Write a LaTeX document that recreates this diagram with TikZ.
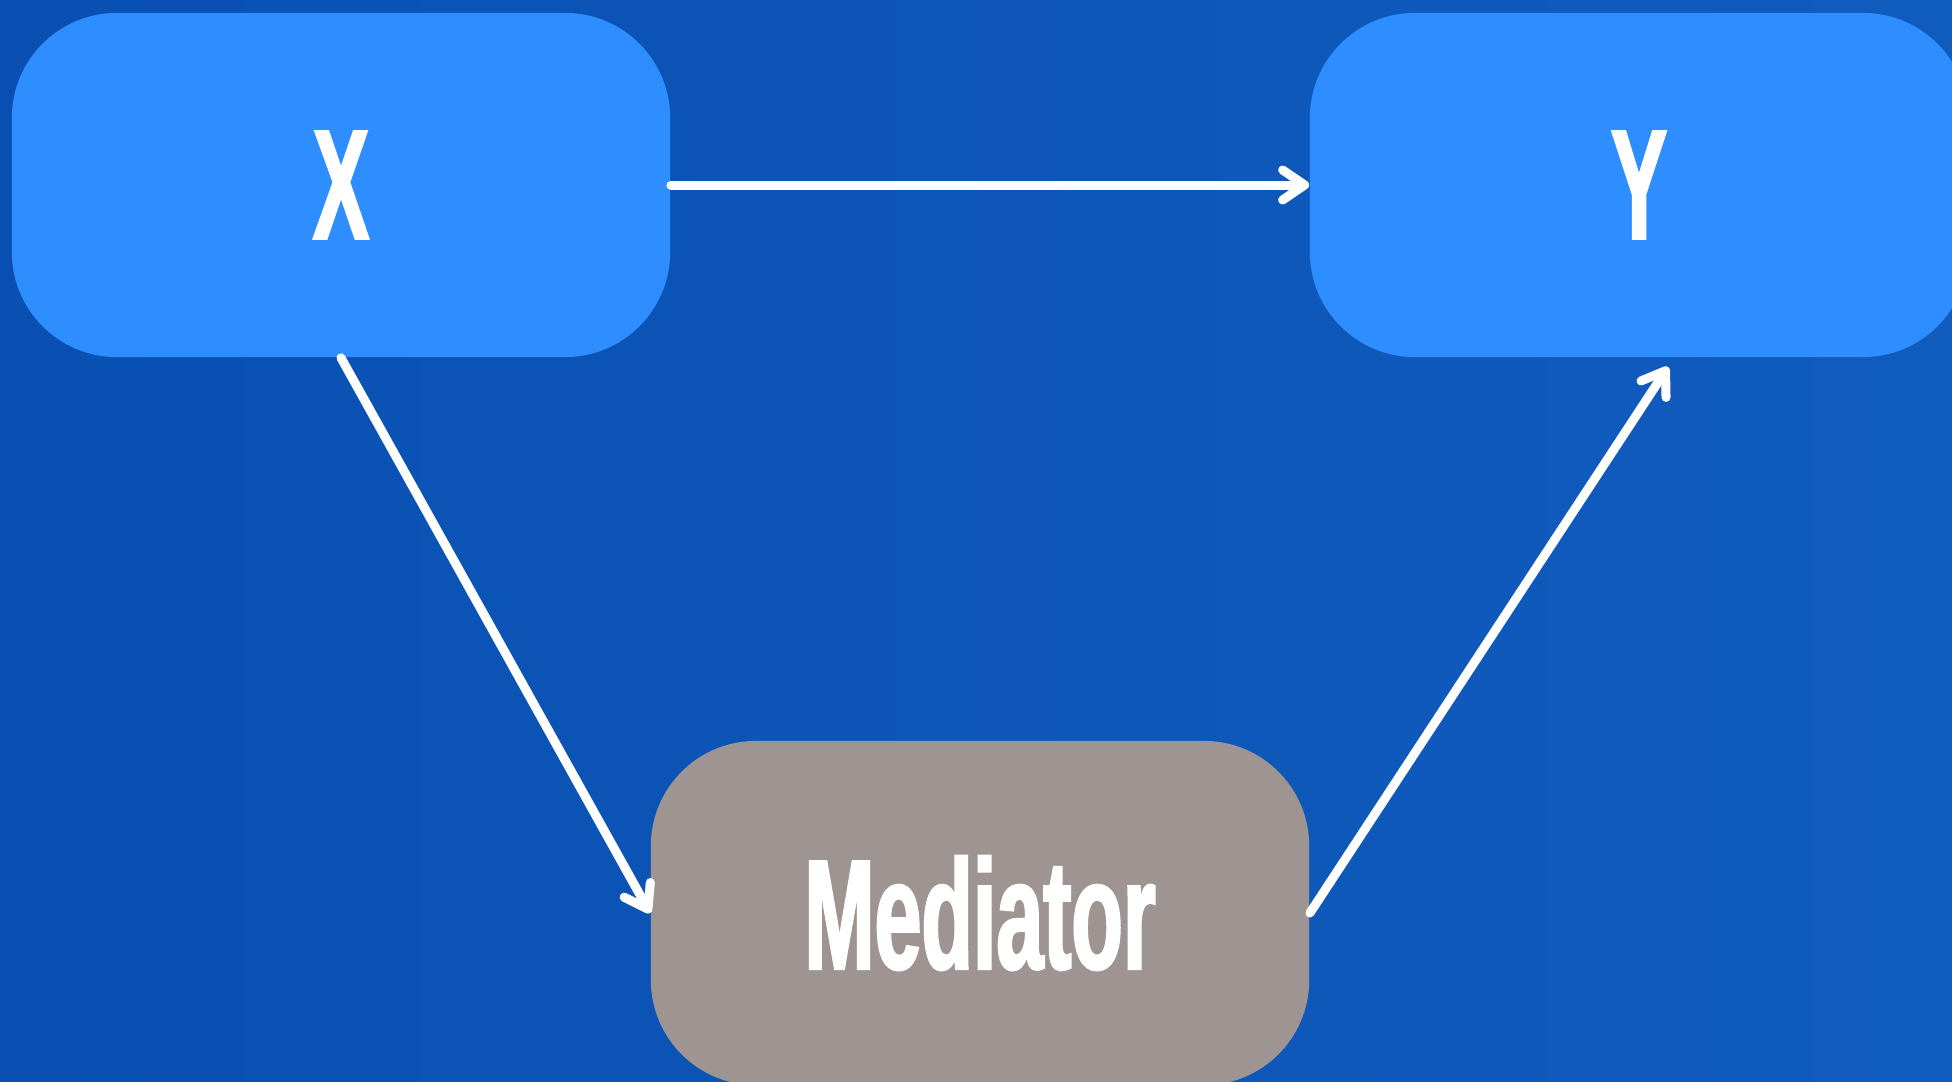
\documentclass[tikz,border=0pt]{standalone}
\usepackage{fontspec}
\newfontfamily\labelfont{Liberation Sans}[FakeStretch=0.54,FakeBold=1.5]
\usetikzlibrary{arrows.meta}
\definecolor{bgleft}{RGB}{9,80,178}
\definecolor{bgright}{RGB}{16,92,190}
\definecolor{varblue}{RGB}{47,142,255}
\definecolor{medgray}{RGB}{158,149,146}
\begin{document}
\begin{tikzpicture}[x=0.01cm,y=-0.01cm,
  box/.style={rounded corners=1.05cm,minimum width=6.58cm,minimum height=3.44cm,inner sep=0pt,
    text=white,font=\labelfont\bfseries\fontsize{44.4}{50}\selectfont},
  link/.style={white,line width=0.09cm,line cap=round,-{Straight Barb[length=2.2mm,width=3mm,round]}}]
% Background
\useasboundingbox (0,0) rectangle (1952,1081);
\clip (0,0) rectangle (1952,1081);
\shade[left color=bgleft,right color=bgright] (0,0) rectangle (1952,1081);
% Variables
\node[box,fill=varblue] (X) at (341,185) {X};
\node[box,fill=varblue] (Y) at (1639,185) {Y};
\node[box,fill=medgray] (M) at (980,913) {Mediator};
\coordinate (yin) at (1668,367);
% Paths
\draw[link] (X.east) -- (Y.west);
\draw[link] (X.south) -- (M.west);
\draw[link] (M.east) -- (yin);
\end{tikzpicture}
\end{document}
